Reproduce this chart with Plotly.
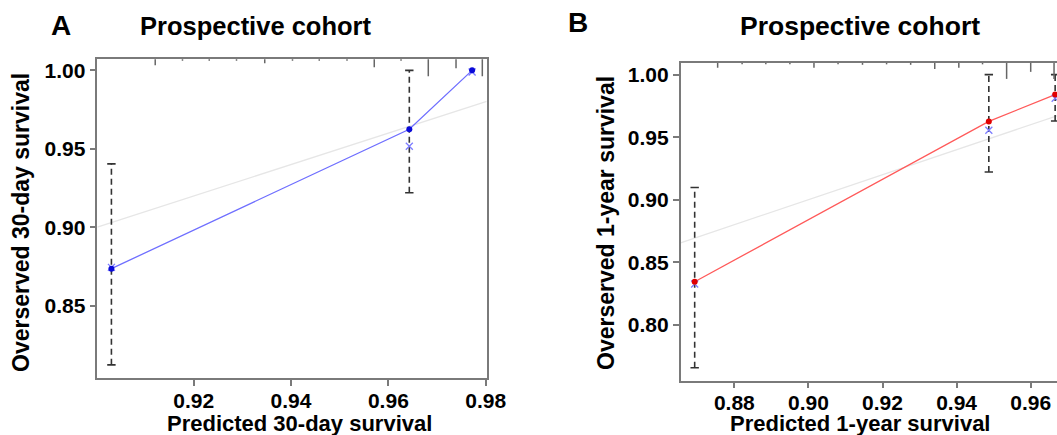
import plotly.graph_objects as go

W, H = 1057, 435

# ---------------- data ----------------
# Panel A: 30-day survival
a_pred = [0.9031, 0.9643, 0.9772]
a_obs = [0.8737, 0.9625, 1.0000]
a_corr = [0.8745, 0.9517, 0.9989]
a_lo = [0.8124, 0.9220, 1.0000]
a_hi = [0.9404, 1.0000, 1.0000]
a_spike_x = [0.9121, 0.9177, 0.9232, 0.9288, 0.9346, 0.9403, 0.9458,
             0.9515, 0.9571, 0.9626, 0.9682, 0.9739, 0.9793]
a_spike_f = [0.35, 0.09, 0.09, 0.09, 0.24, 0.09, 0.09, 0.09, 0.47, 0.09,
             1.0, 0.53, 1.0]
a_xticks = [0.92, 0.94, 0.96, 0.98]
a_yticks = [0.85, 0.90, 0.95, 1.00]

# Panel B: 1-year survival
b_pred = [0.8693, 0.9487, 0.9666]
b_obs = [0.8344, 0.9626, 0.9841]
b_corr = [0.8326, 0.9556, 0.9811]
b_lo = [0.7656, 0.9222, 0.9629]
b_hi = [0.9097, 1.0000, 1.0000]
b_spike_x = [0.8755, 0.8821, 0.8885, 0.8950, 0.9015, 0.9080, 0.9146,
             0.9211, 0.9276, 0.9341, 0.9406, 0.9470, 0.9535, 0.9600, 0.9663]
b_spike_f = [0.31, 0.09, 0.09, 0.09, 0.31, 0.09, 0.12, 0.09, 0.12, 0.38,
             0.31, 0.09, 1.0, 0.56, 1.0]
b_xticks = [0.88, 0.90, 0.92, 0.94, 0.96]
b_yticks = [0.80, 0.85, 0.90, 0.95, 1.00]

title_text = "Prospective cohort"

# ---------------- layout geometry ----------------
a_xrange = [0.9002, 0.9802]
a_yrange = [0.8041, 1.0071]
b_xrange = [0.8655, 0.9671]
b_yrange = [0.7554, 1.0094]

a_dom_x = [97.3 / W, 486.7 / W]
a_dom_y = [1 - 377.9 / H, 1 - 59.2 / H]
b_dom_x = [680.6 / W, 1.0]
b_dom_y = [1 - 380.5 / H, 1 - 62.9 / H]

FONT = "Liberation Sans, Arial, Helvetica, sans-serif"
AXC = "#7a7a7a"
ERR = "#333333"

fig = go.Figure()


def add_panel(xa, ya, pred, obs, corr, lo, hi, xr, line_col, dot_col):
    # ideal line
    fig.add_trace(go.Scatter(x=xr, y=xr, mode="lines", xaxis=xa, yaxis=ya,
                             line=dict(color="#e6e6e6", width=1.3),
                             hoverinfo="skip", showlegend=False))
    # dashed error bars
    ex, ey = [], []
    for x, l, h in zip(pred, lo, hi):
        if h > l:
            ex += [x, x, None]
            ey += [l, h, None]
    fig.add_trace(go.Scatter(x=ex, y=ey, mode="lines", xaxis=xa, yaxis=ya,
                             line=dict(color=ERR, width=1.6, dash="6px,4px"),
                             hoverinfo="skip", showlegend=False))
    cx, cy = [], []
    for x, l, h in zip(pred, lo, hi):
        if h > l:
            cx += [x, x]
            cy += [l, h]
    fig.add_trace(go.Scatter(x=cx, y=cy, mode="markers", xaxis=xa, yaxis=ya,
                             marker=dict(symbol="line-ew", size=6,
                                         line=dict(color=ERR, width=1.6)),
                             hoverinfo="skip", showlegend=False))
    # calibration line
    fig.add_trace(go.Scatter(x=pred, y=obs, mode="lines", xaxis=xa, yaxis=ya,
                             line=dict(color=line_col, width=1.3),
                             showlegend=False))
    # bias-corrected
    fig.add_trace(go.Scatter(x=pred, y=corr, mode="markers", xaxis=xa, yaxis=ya,
                             marker=dict(symbol="x-thin", size=7,
                                         line=dict(color="#7d7dff", width=1.3)),
                             showlegend=False))
    # observed
    fig.add_trace(go.Scatter(x=pred, y=obs, mode="markers", xaxis=xa, yaxis=ya,
                             marker=dict(symbol="circle", size=6, color=dot_col),
                             showlegend=False))


add_panel("x", "y", a_pred, a_obs, a_corr, a_lo, a_hi, a_xrange, "#6f6fff", "#0a0ad8")
add_panel("x2", "y2", b_pred, b_obs, b_corr, b_lo, b_hi, b_xrange, "#ff5a5a", "#e00000")

shapes = []
plot_h_a = (a_dom_y[1] - a_dom_y[0]) * H
plot_h_b = (b_dom_y[1] - b_dom_y[0]) * H
for x, f in zip(a_spike_x, a_spike_f):
    shapes.append(dict(type="line", xref="x", yref="y domain", x0=x, x1=x,
                       y0=1, y1=1 - f * 17 / plot_h_a,
                       line=dict(color="#666666", width=1.5)))
for x, f in zip(b_spike_x, b_spike_f):
    shapes.append(dict(type="line", xref="x2", yref="y2 domain", x0=x, x1=x,
                       y0=1, y1=1 - f * 16 / plot_h_b,
                       line=dict(color="#666666", width=1.5)))

tickfont = dict(family=FONT, size=21, color="black", weight="bold")
common_axis = dict(showline=True, linecolor=AXC, linewidth=1.5, ticks="outside",
                   ticklen=6, tickwidth=1.5, tickcolor=AXC, showgrid=False,
                   zeroline=False, tickfont=tickfont, automargin=False,
                   tickmode="array")

fig.update_layout(
    width=W, height=H,
    margin=dict(l=0, r=0, t=0, b=0),
    paper_bgcolor="white", plot_bgcolor="white",
    showlegend=False,
    shapes=shapes,
    xaxis=dict(common_axis, domain=a_dom_x, range=a_xrange, anchor="y",
               mirror=True, tickvals=a_xticks, ticklabelstandoff=-3,
               ticktext=[f"{v:.2f}" for v in a_xticks]),
    yaxis=dict(common_axis, domain=a_dom_y, range=a_yrange, anchor="x",
               mirror=True, tickvals=a_yticks,
               ticktext=[f"{v:.2f}" for v in a_yticks]),
    xaxis2=dict(common_axis, domain=b_dom_x, range=b_xrange, anchor="y2",
                mirror=True, tickvals=b_xticks, ticklabelstandoff=-3,
                ticktext=[f"{v:.2f}" for v in b_xticks]),
    yaxis2=dict(common_axis, domain=b_dom_y, range=b_yrange, anchor="x2",
                mirror=False, tickvals=b_yticks,
                ticktext=[f"{v:.2f}" for v in b_yticks]),
)


def ann(text, px, py, size, angle=0):
    fig.add_annotation(text=text, x=px / W, y=1 - py / H, xref="paper",
                       yref="paper", showarrow=False, textangle=angle,
                       xanchor="center", yanchor="middle",
                       font=dict(family=FONT, size=size, color="black",
                                 weight="bold"))


ann("A", 61, 25, 28)
ann(title_text, 255, 26, 25.5)
ann("B", 578, 22, 28)
ann(title_text, 860, 26, 26.5)
ann("Predicted 30-day survival", 299, 423, 22)
ann("Predicted 1-year survival", 860, 423, 22)
ann("Overserved 30-day survival", 21, 223, 23, -90)
ann("Overserved 1-year survival", 606, 223, 23, -90)

fig.write_html("out.html")
